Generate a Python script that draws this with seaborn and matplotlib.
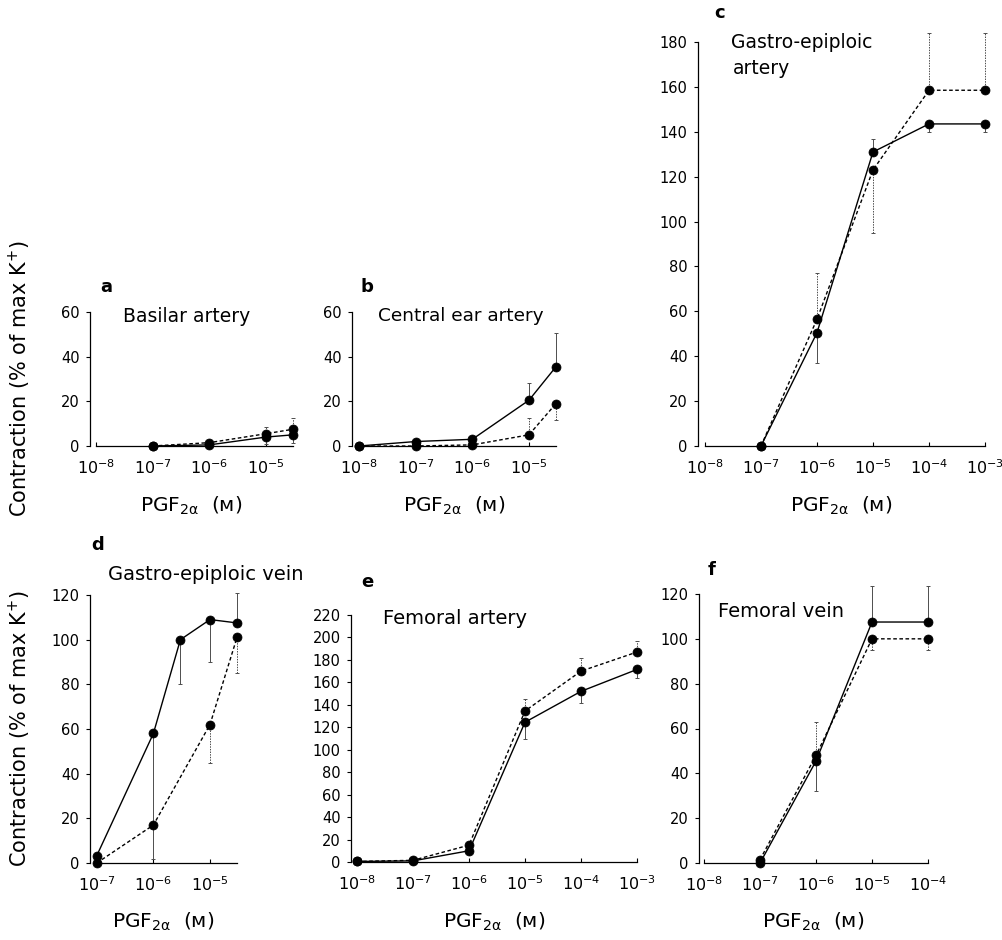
import matplotlib
matplotlib.use("Agg")
import numpy as np
import pandas as pd
import matplotlib.pyplot as plt
import seaborn as sns
from matplotlib.ticker import FixedLocator, NullLocator, LogFormatterSciNotation

sns.set_style("ticks")
plt.rcParams['font.family'] = ['DejaVu Sans']
plt.rcParams['mathtext.fontset'] = 'dejavusans'
plt.rcParams['mathtext.default'] = 'regular'
plt.rcParams['text.color'] = 'black'
plt.rcParams['axes.labelcolor'] = 'black'
plt.rcParams['xtick.color'] = 'black'
plt.rcParams['ytick.color'] = 'black'

# ---------------- data ----------------
# a  Basilar artery
a_conc = [1e-7, 1e-6, 1e-5, 3e-5]
a_solid = [0, 0.5, 4, 5]
a_solid_lo = [0, 0, 3, 3.5]
a_solid_hi = [0, 0, 0, 0]
a_dash = [0, 1.5, 5.5, 7.5]
a_dash_lo = [0, 0, 0, 0]
a_dash_hi = [0, 0.5, 3, 5]

# b  Central ear artery
b_conc = [1e-8, 1e-7, 1e-6, 1e-5, 3e-5]
b_solid = [0, 2, 3, 20.5, 35.5]
b_solid_lo = [0, 0, 0, 0, 0]
b_solid_hi = [0, 0.5, 0.5, 7.5, 15]
b_dash = [0, 0, 0.5, 5, 19]
b_dash_lo = [0, 0, 0, 0, 7.5]
b_dash_hi = [0, 0, 0, 7.5, 0]

# c  Gastro-epiploic artery
c_conc = [1e-7, 1e-6, 1e-5, 1e-4, 1e-3]
c_solid = [0, 50.5, 131, 143.5, 143.5]
c_solid_lo = [0, 13.5, 0, 3.5, 3.5]
c_solid_hi = [0, 0, 6, 0, 0]
c_dash = [0, 56.5, 123, 158.5, 158.5]
c_dash_lo = [0, 0, 28, 0, 0]
c_dash_hi = [0, 20.5, 0, 25.5, 25.5]

# d  Gastro-epiploic vein
d_conc_solid = [1e-7, 1e-6, 3e-6, 1e-5, 3e-5]
d_solid = [3.3, 58, 100, 109, 107.5]
d_solid_lo = [0, 56, 20, 19, 0]
d_solid_hi = [0, 0, 0, 0, 13.5]
d_conc_dash = [1e-7, 1e-6, 1e-5, 3e-5]
d_dash = [0, 17, 62, 101]
d_dash_lo = [0, 0, 17, 16]
d_dash_hi = [0, 0, 0, 0]

# e  Femoral artery
e_conc = [1e-8, 1e-7, 1e-6, 1e-5, 1e-4, 1e-3]
e_solid = [0.5, 1, 10, 124.5, 152, 171.5]
e_solid_lo = [0, 0, 0, 15, 10.5, 8]
e_solid_hi = [0, 0, 0, 0, 0, 0]
e_dash = [0.5, 1.5, 15, 134.5, 170, 187]
e_dash_lo = [0, 0, 0, 0, 0, 0]
e_dash_hi = [0, 0, 0, 10.5, 11.5, 9.5]

# f  Femoral vein
f_conc = [1e-7, 1e-6, 1e-5, 1e-4]
f_solid = [0, 45.5, 107.5, 107.5]
f_solid_lo = [0, 13.5, 0, 0]
f_solid_hi = [0, 0, 16, 16]
f_dash = [1.5, 48, 100, 100]
f_dash_lo = [0, 0, 5, 5]
f_dash_hi = [0, 15, 0, 0]

letters = ["a", "b", "c", "d", "e", "f"]
titles = ["Basilar artery", "Central ear artery", "Gastro-epiploic\nartery",
          "Gastro-epiploic vein", "Femoral artery", "Femoral vein"]
a_xticks = [1e-8, 1e-7, 1e-6, 1e-5]
b_xticks = [1e-8, 1e-7, 1e-6, 1e-5]
c_xticks = [1e-8, 1e-7, 1e-6, 1e-5, 1e-4, 1e-3]
d_xticks = [1e-7, 1e-6, 1e-5]
e_xticks = [1e-8, 1e-7, 1e-6, 1e-5, 1e-4, 1e-3]
f_xticks = [1e-8, 1e-7, 1e-6, 1e-5, 1e-4]
a_yticks = [0, 20, 40, 60]
b_yticks = [0, 20, 40, 60]
c_yticks = list(range(0, 181, 20))
d_yticks = list(range(0, 121, 20))
e_yticks = list(range(0, 221, 20))
f_yticks = list(range(0, 121, 20))

xlabel = r"PGF$_{2α}$  (м)"
ylabel = r"Contraction (% of max K$^{+}$)"

# ---------------- layout (pixels) ----------------
W, H = 1003, 940
# left px, right px, top px, bottom px, log10 of left limit
layout = {
    "a": (90, 293, 312, 446, -8.106),
    "b": (352, 556, 312, 446, -8.124),
    "c": (698, 985, 42, 446, -8.125),
    "d": (90, 237, 595, 863, -7.12),
    "e": (351, 637, 615, 862, -8.107),
    "f": (699, 928, 594, 863, -8.09),
}
letter_pos = {"a": (106, 292), "b": (367, 292), "c": (720, 18),
              "d": (98, 550), "e": (367, 587), "f": (712, 575)}
title_pos = {"a": (123, 322, 13.5), "b": (378, 321, 13.3), "c": (731, 48, 13.5),
             "d": (108, 580, 14), "e": (383, 624, 14), "f": (718, 617, 14)}

panels = {
    "a": dict(solid=(a_conc, a_solid, a_solid_lo, a_solid_hi),
              dash=(a_conc, a_dash, a_dash_lo, a_dash_hi),
              xt=a_xticks, yt=a_yticks),
    "b": dict(solid=(b_conc, b_solid, b_solid_lo, b_solid_hi),
              dash=(b_conc, b_dash, b_dash_lo, b_dash_hi),
              xt=b_xticks, yt=b_yticks),
    "c": dict(solid=(c_conc, c_solid, c_solid_lo, c_solid_hi),
              dash=(c_conc, c_dash, c_dash_lo, c_dash_hi),
              xt=c_xticks, yt=c_yticks),
    "d": dict(solid=(d_conc_solid, d_solid, d_solid_lo, d_solid_hi),
              dash=(d_conc_dash, d_dash, d_dash_lo, d_dash_hi),
              xt=d_xticks, yt=d_yticks),
    "e": dict(solid=(e_conc, e_solid, e_solid_lo, e_solid_hi),
              dash=(e_conc, e_dash, e_dash_lo, e_dash_hi),
              xt=e_xticks, yt=e_yticks),
    "f": dict(solid=(f_conc, f_solid, f_solid_lo, f_solid_hi),
              dash=(f_conc, f_dash, f_dash_lo, f_dash_hi),
              xt=f_xticks, yt=f_yticks),
}

fig = plt.figure(figsize=(W / 100, H / 100), dpi=100)
fig.patch.set_facecolor("white")

for i, key in enumerate(letters):
    L, R, T, B, xl = layout[key]
    p = panels[key]
    ax = fig.add_axes([L / W, 1 - B / H, (R - L) / W, (B - T) / H])
    ax.set_facecolor("white")
    ax.set_xscale("log")
    xmax = max(p["solid"][0][-1], p["dash"][0][-1])
    ax.set_xlim(10 ** xl, xmax)
    ax.set_ylim(0, p["yt"][-1])

    for kind in ("solid", "dash"):
        xs, ys, lo, hi = p[kind]
        df = pd.DataFrame({"conc": xs, "val": ys})
        ls = "-" if kind == "solid" else (0, (2.6, 1.8))
        eb = ax.errorbar(xs, ys, yerr=[lo, hi], fmt="none", ecolor="0.3",
                         elinewidth=0.7, capsize=1.3, capthick=0.7, zorder=2)
        for c in eb[2]:
            c.set_clip_on(False)
            if kind == "dash":
                c.set_linestyle((0, (1.5, 1.2)))
        for c in eb[1]:
            c.set_clip_on(False)
        sns.lineplot(data=df, x="conc", y="val", ax=ax, color="black",
                     linestyle=ls, linewidth=1.0, marker="o", markersize=6.5,
                     markeredgecolor="black", markeredgewidth=0.5,
                     clip_on=False, zorder=3, estimator=None, sort=False)

    ax.xaxis.set_major_locator(FixedLocator(p["xt"]))
    ax.xaxis.set_major_formatter(LogFormatterSciNotation())
    ax.xaxis.set_minor_locator(NullLocator())
    ax.yaxis.set_major_locator(FixedLocator(p["yt"]))
    ax.set_xlabel("")
    ax.set_ylabel("")
    sns.despine(ax=ax)
    for s in ("left", "bottom"):
        ax.spines[s].set_linewidth(0.9)
        ax.spines[s].set_color("black")
    ax.spines["bottom"].set_bounds(p["xt"][0], xmax)
    ax.spines["left"].set_bounds(0, p["yt"][-1])
    ax.tick_params(axis="y", direction="out", length=3, width=0.8,
                   labelsize=10.5, pad=4.5, colors="black")
    ax.tick_params(axis="x", direction="in", length=3, width=0.8,
                   labelsize=11.5, pad=9, colors="black")

    # panel letter and title
    lx, ly = letter_pos[key]
    fig.text(lx / W, 1 - ly / H, key, fontsize=13, fontweight="bold",
             ha="center", va="baseline")
    tx, ty, tfs = title_pos[key]
    if "\n" in titles[i]:
        l1, l2 = titles[i].split("\n")
        fig.text(tx / W, 1 - ty / H, l1, fontsize=tfs, ha="left", va="baseline")
        fig.text((tx + 2) / W, 1 - (ty + 26) / H, l2, fontsize=tfs, ha="left",
                 va="baseline")
    else:
        fig.text(tx / W, 1 - ty / H, titles[i], fontsize=tfs, ha="left",
                 va="baseline")

    # x label
    xb = 512 if key in ("a", "b", "c") else 928
    fig.text(((L + R) / 2) / W, 1 - xb / H, xlabel, fontsize=14.5,
             ha="center", va="baseline")

fig.text(20 / W, 1 - 379 / H, ylabel, fontsize=15, rotation=90,
         ha="center", va="center")
fig.text(20 / W, 1 - 729 / H, ylabel, fontsize=15, rotation=90,
         ha="center", va="center")

fig.savefig("out.png", dpi=100, facecolor="white")
